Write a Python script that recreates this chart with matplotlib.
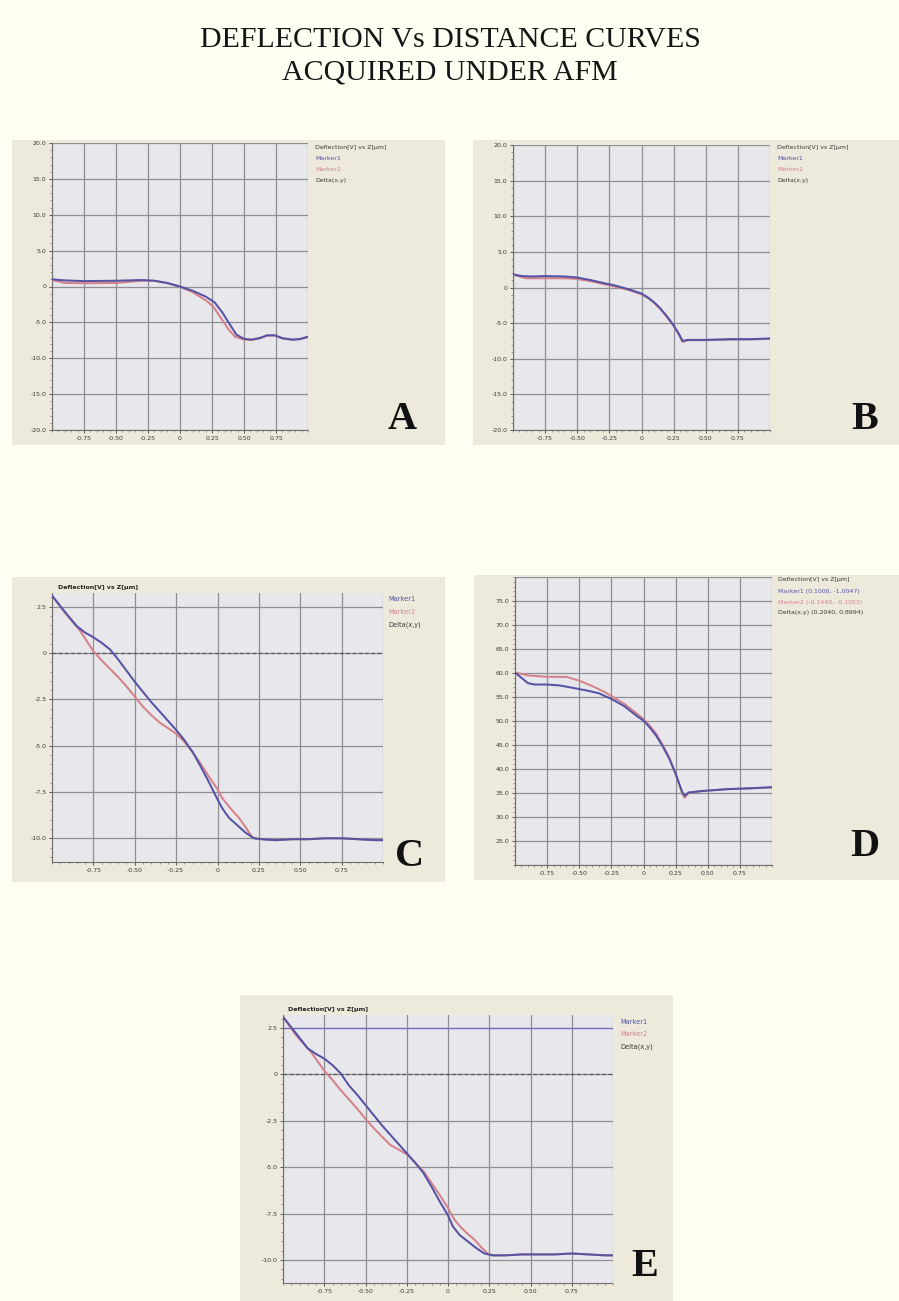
import matplotlib
matplotlib.use("Agg")
import matplotlib.pyplot as plt
from matplotlib.patches import Rectangle
from matplotlib.ticker import FixedLocator, MultipleLocator

W, H = 899, 1301

# ---------------- data ----------------
title_lines = ["DEFLECTION Vs DISTANCE CURVES", "ACQUIRED UNDER AFM"]

x_ticks = [-0.75, -0.50, -0.25, 0, 0.25, 0.50, 0.75]
x_tick_labels = ["-0.75", "-0.50", "-0.25", "0", "0.25", "0.50", "0.75"]

ab_y_ticks = [20, 15, 10, 5, 0, -5, -10, -15, -20]
ab_y_labels = ["20.0", "15.0", "10.0", "5.0", "0", "-5.0", "-10.0", "-15.0", "-20.0"]
ce_y_ticks = [2.5, 0, -2.5, -5.0, -7.5, -10.0]
ce_y_labels = ["2.5", "0", "-2.5", "-5.0", "-7.5", "-10.0"]
d_y_ticks = [75, 70, 65, 60, 55, 50, 45, 40, 35, 30, 25]
d_y_labels = ["75.0", "70.0", "65.0", "60.0", "55.0", "50.0", "45.0", "40.0", "35.0", "30.0", "25.0"]

legend_ab = ["Deflection[V] vs Z[µm]", "Marker1", "Marker2", "Delta(x,y)"]
legend_ce = ["Marker1", "Marker2", "Delta(x,y)"]
legend_d = ["Deflection[V] vs Z[µm]", "Marker1 (0.1000, -1.0047)",
            "Marker2 (-0.1440, -0.1053)", "Delta(x,y) (0.2040, 0.8994)"]
plot_title_ce = "Deflection[V] vs Z[µm]"

# Panel A
a_blue_x = [-1.0, -0.9, -0.75, -0.5, -0.3, -0.2, -0.1, 0.0, 0.1, 0.2, 0.27, 0.33, 0.39,
            0.44, 0.5, 0.56, 0.62, 0.68, 0.74, 0.8, 0.88, 0.94, 1.0]
a_blue_y = [1.0, 0.85, 0.75, 0.8, 0.9, 0.8, 0.5, 0.0, -0.6, -1.4, -2.2, -3.6, -5.3,
            -6.7, -7.3, -7.4, -7.2, -6.8, -6.8, -7.2, -7.4, -7.3, -7.0]
a_red_x = [-1.0, -0.9, -0.75, -0.5, -0.3, -0.2, -0.1, 0.0, 0.1, 0.2, 0.26, 0.32, 0.38,
           0.43, 0.5, 0.56, 0.62, 0.68, 0.74, 0.8, 0.88, 0.94, 1.0]
a_red_y = [0.9, 0.5, 0.45, 0.5, 0.8, 0.8, 0.45, -0.05, -0.8, -1.9, -2.8, -4.4, -6.0,
           -7.0, -7.4, -7.45, -7.25, -6.85, -6.85, -7.25, -7.45, -7.35, -7.05]

# Panel B
b_blue_x = [-1.0, -0.93, -0.85, -0.75, -0.6, -0.5, -0.4, -0.3, -0.2, -0.1, 0.0, 0.05, 0.1,
            0.15, 0.2, 0.25, 0.29, 0.32, 0.36, 0.5, 0.7, 0.85, 1.0]
b_blue_y = [1.85, 1.6, 1.55, 1.6, 1.55, 1.4, 1.05, 0.65, 0.25, -0.25, -0.85, -1.4, -2.1,
            -3.0, -4.1, -5.3, -6.5, -7.5, -7.35, -7.35, -7.25, -7.25, -7.15]
b_red_x = [-1.0, -0.9, -0.75, -0.6, -0.5, -0.4, -0.3, -0.2, -0.1, 0.0, 0.05, 0.1,
           0.15, 0.2, 0.25, 0.29, 0.32, 0.36, 0.5, 0.7, 0.85, 1.0]
b_red_y = [1.8, 1.3, 1.3, 1.3, 1.2, 0.9, 0.5, 0.1, -0.35, -0.95, -1.5, -2.2,
           -3.1, -4.2, -5.4, -6.6, -7.65, -7.4, -7.4, -7.3, -7.3, -7.2]

# Panel C
c_blue_x = [-1.0, -0.92, -0.85, -0.8, -0.75, -0.7, -0.65, -0.6, -0.55, -0.5, -0.4, -0.3,
            -0.25, -0.2, -0.15, -0.1, -0.05, 0.0, 0.03, 0.07, 0.12, 0.17, 0.22, 0.27,
            0.35, 0.45, 0.55, 0.65, 0.75, 0.85, 0.95, 1.0]
c_blue_y = [3.1, 2.2, 1.45, 1.1, 0.85, 0.55, 0.2, -0.35, -0.95, -1.55, -2.65, -3.65,
            -4.15, -4.7, -5.35, -6.15, -7.0, -7.9, -8.4, -8.9, -9.3, -9.7, -10.0, -10.05,
            -10.1, -10.05, -10.05, -10.0, -10.0, -10.05, -10.1, -10.1]
c_red_x = [-1.0, -0.92, -0.83, -0.79, -0.75, -0.7, -0.65, -0.6, -0.55, -0.5, -0.45, -0.4,
           -0.35, -0.3, -0.25, -0.2, -0.15, -0.1, -0.05, 0.0, 0.03, 0.08, 0.13, 0.17,
           0.21, 0.25, 0.35, 0.45, 0.55, 0.65, 0.75, 0.85, 0.95, 1.0]
c_red_y = [3.1, 2.15, 1.2, 0.65, 0.1, -0.4, -0.85, -1.3, -1.8, -2.35, -2.9, -3.35,
           -3.75, -4.05, -4.35, -4.8, -5.35, -6.0, -6.7, -7.35, -7.85, -8.4, -8.9, -9.4,
           -9.95, -10.05, -10.1, -10.05, -10.05, -10.0, -10.0, -10.05, -10.1, -10.1]

# Panel D
d_blue_x = [-1.0, -0.95, -0.9, -0.85, -0.75, -0.65, -0.55, -0.45, -0.35, -0.25, -0.15,
            -0.05, 0.0, 0.05, 0.1, 0.15, 0.2, 0.25, 0.3, 0.32, 0.35, 0.45, 0.55, 0.65,
            0.75, 0.85, 1.0]
d_blue_y = [60.1, 59.0, 57.9, 57.6, 57.6, 57.4, 56.9, 56.4, 55.8, 54.6, 53.1,
            51.0, 50.1, 48.6, 46.9, 44.7, 42.2, 39.0, 35.3, 34.4, 35.1, 35.4, 35.6, 35.8,
            35.9, 36.0, 36.2]
d_red_x = [-1.0, -0.9, -0.75, -0.6, -0.55, -0.5, -0.4, -0.3, -0.25, -0.15, -0.05, 0.0,
           0.05, 0.1, 0.15, 0.2, 0.25, 0.3, 0.32, 0.35, 0.45, 0.55, 0.65, 0.75, 0.85, 1.0]
d_red_y = [60.1, 59.5, 59.2, 59.2, 58.8, 58.4, 57.3, 56.0, 55.2, 53.6, 51.5, 50.4,
           49.0, 47.3, 45.0, 42.4, 39.0, 35.0, 34.0, 35.0, 35.4, 35.6, 35.8, 35.9, 36.0, 36.2]

# Panel E
e_blue_x = [-1.0, -0.92, -0.85, -0.8, -0.75, -0.7, -0.65, -0.6, -0.55, -0.5, -0.4, -0.3,
            -0.25, -0.2, -0.15, -0.1, -0.05, 0.0, 0.03, 0.07, 0.12, 0.17, 0.22, 0.27,
            0.35, 0.45, 0.55, 0.65, 0.75, 0.85, 0.95, 1.0]
e_blue_y = [3.1, 2.2, 1.4, 1.1, 0.85, 0.5, 0.05, -0.6, -1.1, -1.65, -2.75, -3.75,
            -4.25, -4.75, -5.3, -6.05, -6.85, -7.6, -8.2, -8.65, -9.0, -9.35, -9.65, -9.75,
            -9.75, -9.7, -9.7, -9.7, -9.65, -9.7, -9.75, -9.75]
e_red_x = [-1.0, -0.92, -0.83, -0.79, -0.75, -0.7, -0.65, -0.6, -0.55, -0.5, -0.45, -0.4,
           -0.35, -0.3, -0.25, -0.2, -0.15, -0.1, -0.05, 0.0, 0.04, 0.08, 0.12, 0.16,
           0.2, 0.24, 0.27, 0.35, 0.45, 0.55, 0.65, 0.75, 0.85, 0.95, 1.0]
e_red_y = [3.1, 2.1, 1.2, 0.7, 0.2, -0.3, -0.85, -1.35, -1.85, -2.4, -2.9, -3.35,
           -3.8, -4.05, -4.3, -4.75, -5.2, -5.85, -6.5, -7.2, -7.85, -8.25, -8.6, -8.9,
           -9.3, -9.65, -9.75, -9.75, -9.7, -9.7, -9.7, -9.65, -9.7, -9.75, -9.75]
e_marker1_level = 2.5

# ---------------- styling ----------------
PAGE = "#FEFEF3"
BEIGE = "#EDEADC"
PLOT_BG = "#E8E7EB"
GRID = "#8E8E94"
BLUE = "#5553A4"
RED = "#D4828A"
TXT = "#3A3A3A"
LW = 1.45

fig = plt.figure(figsize=(W / 100, H / 100), dpi=100, facecolor=PAGE)


def fbox(l, t, r, b):
    return [l / W, 1 - b / H, (r - l) / W, (b - t) / H]


def beige(l, t, r, b):
    fig.patches.append(Rectangle((l / W, 1 - b / H), (r - l) / W, (b - t) / H,
                                 transform=fig.transFigure, facecolor=BEIGE,
                                 edgecolor="none", zorder=-5))


def ftext(x, y, s, **kw):
    fig.text(x / W, 1 - y / H, s, zorder=5, **kw)


def make_axes(box, ylim, yticks, ylabels, minor_y):
    ax = fig.add_axes(fbox(*box))
    ax.set_zorder(2)
    ax.set_facecolor(PLOT_BG)
    ax.set_xlim(-1, 1)
    ax.set_ylim(*ylim)
    ax.xaxis.set_major_locator(FixedLocator(x_ticks))
    ax.set_xticklabels(x_tick_labels)
    ax.set_yticks(yticks)
    ax.set_yticklabels(ylabels)
    ax.xaxis.set_minor_locator(MultipleLocator(0.05))
    ax.yaxis.set_minor_locator(MultipleLocator(minor_y))
    ax.tick_params(axis="both", which="major", labelsize=4.5, colors=TXT,
                   length=2.5, width=0.6, pad=1.5)
    ax.tick_params(axis="both", which="minor", length=1.5, width=0.5, colors="#707070")
    for xv in [-1, -0.75, -0.5, -0.25, 0, 0.25, 0.5, 0.75, 1]:
        ax.axvline(xv, color=GRID, lw=0.9, zorder=1)
    for yv in yticks:
        ax.axhline(yv, color=GRID, lw=0.9, zorder=1)
    for s in ["top", "right"]:
        ax.spines[s].set_visible(False)
    for s in ["left", "bottom"]:
        ax.spines[s].set_color("#707070")
        ax.spines[s].set_linewidth(0.8)
        ax.spines[s].set_linestyle((0, (2, 1)))
    return ax


# ---------------- title ----------------
ftext(450, 40, title_lines[0], ha="center", va="center", fontsize=21.5,
      family="Liberation Serif", color="#151515")
ftext(450, 73, title_lines[1], ha="center", va="center", fontsize=21.5,
      family="Liberation Serif", color="#151515")

# ---------------- panel A ----------------
beige(12, 140, 445, 445)
axA = make_axes((52, 143, 308, 430), (-20, 20), ab_y_ticks, ab_y_labels, 1.0)
axA.plot(a_red_x, a_red_y, color=RED, lw=LW, zorder=3)
axA.plot(a_blue_x, a_blue_y, color=BLUE, lw=LW, zorder=4)
for i, (s, c) in enumerate(zip(legend_ab, [TXT, BLUE, RED, TXT])):
    ftext(315, 147 + i * 11.3, s, fontsize=4.5, color=c, va="center")
ftext(402, 420, "A", fontsize=29, family="Liberation Serif", weight="bold",
      ha="center", va="center", color="#111111")

# ---------------- panel B ----------------
beige(473, 140, 899, 445)
axB = make_axes((513, 145, 770, 430), (-20, 20), ab_y_ticks, ab_y_labels, 1.0)
axB.plot(b_red_x, b_red_y, color=RED, lw=LW, zorder=3)
axB.plot(b_blue_x, b_blue_y, color=BLUE, lw=LW, zorder=4)
for i, (s, c) in enumerate(zip(legend_ab, [TXT, BLUE, RED, TXT])):
    ftext(777, 147 + i * 11.3, s, fontsize=4.5, color=c, va="center")
ftext(865, 420, "B", fontsize=29, family="Liberation Serif", weight="bold",
      ha="center", va="center", color="#111111")

# ---------------- panel C ----------------
beige(12, 577, 445, 882)
axC = make_axes((52, 593, 383, 862), (-11.28, 3.24), ce_y_ticks, ce_y_labels, 0.5)
axC.axhline(0, color="#555555", lw=0.9, ls=(0, (3, 2)), zorder=2)
axC.plot(c_red_x, c_red_y, color=RED, lw=LW, zorder=3)
axC.plot(c_blue_x, c_blue_y, color=BLUE, lw=LW, zorder=4)
ftext(58, 587, plot_title_ce, fontsize=4.5, weight="bold", color="#222222", va="center")
for i, (s, c) in enumerate(zip(legend_ce, [BLUE, RED, TXT])):
    ftext(388, 599 + i * 13, s, fontsize=4.8, color=c, va="center")
ftext(410, 857, "C", fontsize=29, family="Liberation Serif", weight="bold",
      ha="center", va="center", color="#111111")

# ---------------- panel D ----------------
beige(474, 575, 899, 880)
axD = make_axes((515, 577, 772, 865), (20, 80), d_y_ticks, d_y_labels, 1.0)
for yv in [20, 80]:
    axD.axhline(yv, color=GRID, lw=0.9, zorder=1)
axD.plot(d_red_x, d_red_y, color=RED, lw=LW, zorder=3)
axD.plot(d_blue_x, d_blue_y, color=BLUE, lw=LW, zorder=4)
for i, (s, c) in enumerate(zip(legend_d, [TXT, BLUE, RED, TXT])):
    ftext(778, 580 + i * 11, s, fontsize=4.5, color=c, va="center")
ftext(865, 847, "D", fontsize=29, family="Liberation Serif", weight="bold",
      ha="center", va="center", color="#111111")

# ---------------- panel E ----------------
beige(240, 995, 673, 1301)
axE = make_axes((283, 1015, 613, 1283), (-11.24, 3.2), ce_y_ticks, ce_y_labels, 0.5)
axE.axhline(0, color="#555555", lw=0.9, ls=(0, (3, 2)), zorder=2)
axE.axhline(e_marker1_level, color="#7070C8", lw=0.9, zorder=2)
axE.plot(e_red_x, e_red_y, color=RED, lw=LW, zorder=3)
axE.plot(e_blue_x, e_blue_y, color=BLUE, lw=LW, zorder=4)
ftext(288, 1010, plot_title_ce, fontsize=4.5, weight="bold", color="#222222", va="center")
for i, (s, c) in enumerate(zip(legend_ce, [BLUE, RED, TXT])):
    ftext(620, 1022 + i * 12.5, s, fontsize=4.8, color=c, va="center")
ftext(645, 1267, "E", fontsize=29, family="Liberation Serif", weight="bold",
      ha="center", va="center", color="#111111")

fig.savefig("out.png", dpi=100, facecolor=PAGE)
